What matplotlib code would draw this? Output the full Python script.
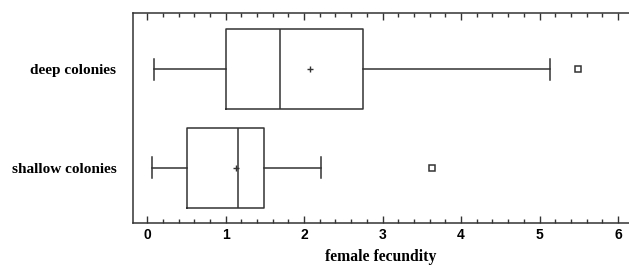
import numpy as np
import matplotlib.pyplot as plt
from matplotlib.ticker import MultipleLocator

groups = ["shallow colonies", "deep colonies"]
whislo = [0.064, 0.093]
q1 = [0.505, 1.0]
med = [1.16, 1.69]
q3 = [1.49, 2.75]
whishi = [2.22, 5.13]
means = [1.13, 2.08]
outliers = [[3.63], [5.49]]

stats = []
for i in range(len(groups)):
    stats.append(dict(label=groups[i], whislo=whislo[i], q1=q1[i], med=med[i],
                      q3=q3[i], whishi=whishi[i], mean=means[i], fliers=outliers[i]))

fig = plt.figure(figsize=(6.29, 2.66), dpi=100)
ax = fig.add_axes([133/629, 43/266, 1 - 133/629, 210/266])

k = dict(color="#333333", linewidth=1.1)
ax.bxp(stats, positions=[1, 2], vert=False, widths=0.81, showmeans=True,
       boxprops=k, whiskerprops=k, capprops=k, medianprops=k,
       meanprops=dict(marker="+", markeredgecolor="#333333", markersize=5, markeredgewidth=1),
       flierprops=dict(marker="s", markerfacecolor="white", markeredgecolor="#333333",
                       markersize=4, markeredgewidth=1.1),
       capwidths=0.21)

ax.set_xlim(-0.18, 6.14)
ax.set_ylim(0.44, 2.57)
ax.spines["right"].set_visible(False)
for s in ["left", "top", "bottom"]:
    ax.spines[s].set_color("#333333")
    ax.spines[s].set_linewidth(1.1)

ax.xaxis.set_major_locator(MultipleLocator(1))
ax.xaxis.set_minor_locator(MultipleLocator(0.2))
ax.tick_params(axis="x", which="both", direction="in", top=True, bottom=True, color="#333333")
ax.tick_params(axis="x", which="major", length=5, width=1)
ax.tick_params(axis="x", which="minor", length=3, width=1)
ax.tick_params(axis="y", length=0, pad=12)
ax.set_xticks(range(7))
ax.set_xticklabels([str(i) for i in range(7)], fontfamily="Liberation Sans",
                   fontweight="bold", fontsize=10)
ax.set_yticks([1, 2])
ax.set_yticklabels(groups, fontfamily="Liberation Serif", fontweight="bold", fontsize=11)
ax.set_xlabel("female fecundity", fontfamily="Liberation Serif", fontweight="bold",
              fontsize=11.3, labelpad=5)

fig.savefig("out.png", dpi=100)
